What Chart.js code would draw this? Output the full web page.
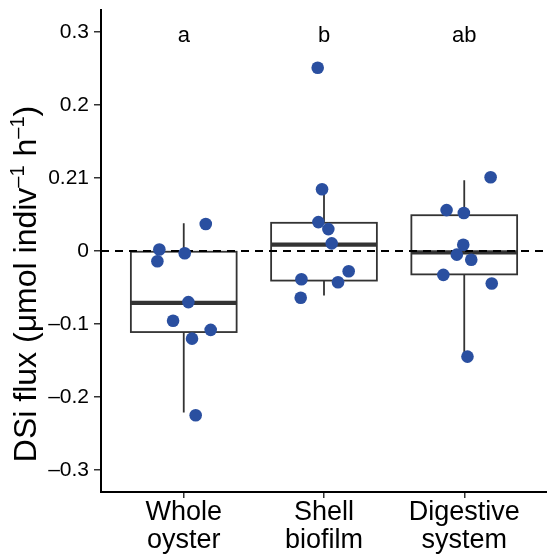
<!DOCTYPE html>
<html>
<head>
<meta charset="utf-8">
<script src="https://cdn.jsdelivr.net/npm/chart.js@4"></script>
<style>
html,body{margin:0;padding:0;background:#fff;}
#c{display:block;}
</style>
</head>
<body>
<canvas id="c" width="547" height="558"></canvas>
<script>
const categories = [["Whole", "oyster"], ["Shell", "biofilm"], ["Digestive", "system"]];
const groupLetters = ["a", "b", "ab"];
const yTickValues = [-0.3, -0.2, -0.1, 0, 0.1, 0.2, 0.3];
const yTickLabels = ["\u20130.3", "\u20130.2", "\u20130.1", "0", "0.21", "0.2", "0.3"];
const yTitleParts = [["DSi flux (\u03bcmol indiv", false], ["\u20131", true], [" h", false], ["\u20131", true], [")", false]];

const wholeValues = [0.002, -0.014, -0.003, 0.037, -0.070, -0.0955, -0.108, -0.120, -0.225];
const wholeJitter = [-0.174, -0.188, 0.007, 0.157, 0.033, -0.076, 0.192, 0.059, 0.085];
const shellValues = [0.251, 0.0846, 0.0396, 0.030, 0.0105, -0.0277, -0.0386, -0.0427, -0.064];
const shellJitter = [-0.045, -0.014, -0.040, 0.031, 0.055, 0.176, -0.161, 0.100, -0.166];
const digestValues = [0.101, 0.056, 0.052, 0.0086, -0.005, -0.012, -0.0327, -0.0446, -0.1446];
const digestJitter = [0.188, -0.126, -0.003, -0.007, -0.053, 0.050, -0.149, 0.196, 0.023];

const whiskerLow = [-0.221, -0.061, -0.144];
const q1 = [-0.111, -0.0405, -0.032];
const median = [-0.071, 0.0086, -0.002];
const q3 = [-0.001, 0.0386, 0.049];
const whiskerHigh = [0.038, 0.0846, 0.097];

const groups = [[wholeValues, wholeJitter], [shellValues, shellJitter], [digestValues, digestJitter]];
const points = [];
groups.forEach((g, i) => g[0].forEach((v, k) => points.push({x: i + g[1][k], y: v})));

const FONT = "'Liberation Sans', Arial, Helvetica, sans-serif";
const BOX_HALF = 0.377;
const TITLE_SIZE = 32;

const boxPlugin = {
  id: 'boxes',
  beforeDatasetsDraw(chart) {
    const {ctx, scales: {x, y}, chartArea} = chart;
    ctx.save();
    ctx.strokeStyle = '#333333';
    ctx.lineCap = 'butt';
    for (let i = 0; i < categories.length; i++) {
      const xc = x.getPixelForValue(i);
      const xl = x.getPixelForValue(i - BOX_HALF);
      const xr = x.getPixelForValue(i + BOX_HALF);
      const yq1 = y.getPixelForValue(q1[i]);
      const yq3 = y.getPixelForValue(q3[i]);
      ctx.lineWidth = 1.8;
      ctx.beginPath();
      ctx.moveTo(xc, y.getPixelForValue(whiskerHigh[i])); ctx.lineTo(xc, yq3);
      ctx.moveTo(xc, yq1); ctx.lineTo(xc, y.getPixelForValue(whiskerLow[i]));
      ctx.stroke();
      ctx.fillStyle = '#ffffff';
      ctx.fillRect(xl, yq3, xr - xl, yq1 - yq3);
      ctx.strokeRect(xl, yq3, xr - xl, yq1 - yq3);
      ctx.lineWidth = 4.2;
      ctx.beginPath();
      const ym = y.getPixelForValue(median[i]);
      ctx.moveTo(xl, ym); ctx.lineTo(xr, ym);
      ctx.stroke();
    }
    ctx.strokeStyle = '#000000';
    ctx.lineWidth = 1.8;
    ctx.setLineDash([8, 6]);
    ctx.beginPath();
    const y0 = y.getPixelForValue(0);
    ctx.moveTo(chartArea.left, y0); ctx.lineTo(chartArea.right, y0);
    ctx.stroke();
    ctx.setLineDash([]);
    ctx.fillStyle = '#000000';
    ctx.font = '22px ' + FONT;
    ctx.textAlign = 'center';
    ctx.textBaseline = 'middle';
    groupLetters.forEach((t, i) => ctx.fillText(t, x.getPixelForValue(i), y.getPixelForValue(0.295)));
    ctx.restore();
  },
  afterDraw(chart) {
    const {ctx} = chart;
    ctx.save();
    const main = TITLE_SIZE + 'px ' + FONT;
    const sup = Math.round(TITLE_SIZE * 0.62) + 'px ' + FONT;
    let total = 0;
    yTitleParts.forEach(([t, s]) => { ctx.font = s ? sup : main; total += ctx.measureText(t).width; });
    ctx.translate(36, 284);
    ctx.rotate(-Math.PI / 2);
    ctx.fillStyle = '#000';
    ctx.textBaseline = 'alphabetic';
    ctx.textAlign = 'left';
    let xpos = -total / 2;
    yTitleParts.forEach(([t, s]) => {
      ctx.font = s ? sup : main;
      ctx.fillText(t, xpos, s ? -TITLE_SIZE * 0.36 : 0);
      xpos += ctx.measureText(t).width;
    });
    ctx.restore();
  }
};

new Chart(document.getElementById('c'), {
  type: 'scatter',
  data: {
    datasets: [{
      data: points,
      backgroundColor: '#2a4fa0',
      borderColor: '#2a4fa0',
      borderWidth: 0,
      pointRadius: 6.3,
      pointHoverRadius: 6.3
    }]
  },
  options: {
    responsive: false,
    devicePixelRatio: 1,
    animation: false,
    layout: {autoPadding: false, padding: {top: 10, right: 0, left: 0, bottom: 0}},
    plugins: {legend: {display: false}, tooltip: {enabled: false}},
    scales: {
      x: {
        type: 'linear',
        min: -0.59,
        max: 2.59,
        afterBuildTicks: (s) => { s.ticks = [0, 1, 2].map(v => ({value: v})); },
        afterFit: (s) => { s.height = 66; s.paddingLeft = 0; s.paddingRight = 0; },
        ticks: {
          callback: (v) => categories[v],
          color: '#000',
          font: {family: FONT, size: 27, lineHeight: 1.05},
          padding: 0,
          maxRotation: 0,
          autoSkip: false
        },
        grid: {drawOnChartArea: false, drawTicks: true, tickLength: 6, color: '#333', lineWidth: 1.5},
        border: {display: true, color: '#000', width: 2}
      },
      y: {
        min: -0.33,
        max: 0.33,
        afterBuildTicks: (s) => { s.ticks = yTickValues.map(v => ({value: v})); },
        afterFit: (s) => { s.width = 101; s.paddingTop = 0; s.paddingBottom = 0; },
        ticks: {
          callback: (v) => yTickLabels[yTickValues.findIndex(t => Math.abs(t - v) < 1e-9)],
          color: '#000',
          font: {family: FONT, size: 21},
          padding: 5,
          autoSkip: false
        },
        grid: {drawOnChartArea: false, drawTicks: true, tickLength: 7, color: '#333', lineWidth: 1.5},
        border: {display: true, color: '#000', width: 2}
      }
    }
  },
  plugins: [boxPlugin]
});
</script>
</body>
</html>
